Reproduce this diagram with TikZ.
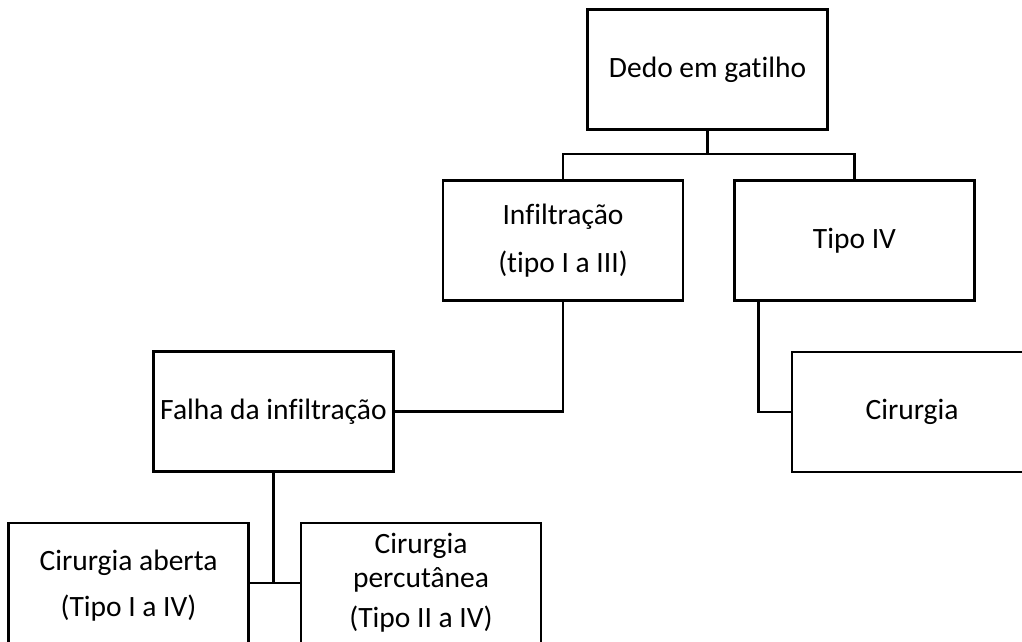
\documentclass[tikz,border=0pt]{standalone}
\usepackage{fontspec}
\setmainfont{Carlito}[Ligatures={NoCommon}]
\usetikzlibrary{positioning}

\begin{document}
\begin{tikzpicture}[x=1pt,y=-1pt]
        \tikzset{block/.style= {draw, rectangle, line width=2.5pt, align=center, inner sep=0pt,
                   minimum width=240pt, minimum height=120pt, font=\fontsize{29.5}{48}\selectfont},
        link/.style={draw, line width=2.5pt}
        }
        \useasboundingbox (0,0) rectangle (1022,642);
        \clip (0,0) rectangle (1022,642);
        \node [block] at (707.5,69.5) (dedo) {Dedo em gatilho};
        \node [block] at (563,240.5) (infil) {Infiltração\\(tipo I a III)};
        \node [block, right =49pt of infil] (tipo) {Tipo IV};
        \node [block] at (912,412) (cir) {Cirurgia};
        \node [block] at (273.5,411.5) (falha) {Falha da infiltração};
        \node [block, minimum height=126pt] at (128.5,586) (aberta) {Cirurgia aberta\\[-2pt](Tipo I a IV)};
        \node [block, right =50pt of aberta.north east, anchor=north west, font=\fontsize{29.5}{34}\selectfont] (percut) {Cirurgia\\percutânea\\[6pt](Tipo II a IV)};
        \coordinate (bus) at (707.5,154);  %% junction under the top box
        \coordinate (tipoleft) at ([xshift=25pt]tipo.south west);  %% exit on the left of Tipo IV

%% paths
        \path[link] (dedo.south) -- (bus)
                    (infil.north) |- (bus) -| (tipo.north)
                    (infil.south) |- (falha.east)
                    (tipoleft) |- (cir.west)
                    (falha.south) -- (falha.south |- percut.west)
                    (aberta.east |- percut.west) -- (percut.west)
                    ;
\end{tikzpicture}
\end{document}
